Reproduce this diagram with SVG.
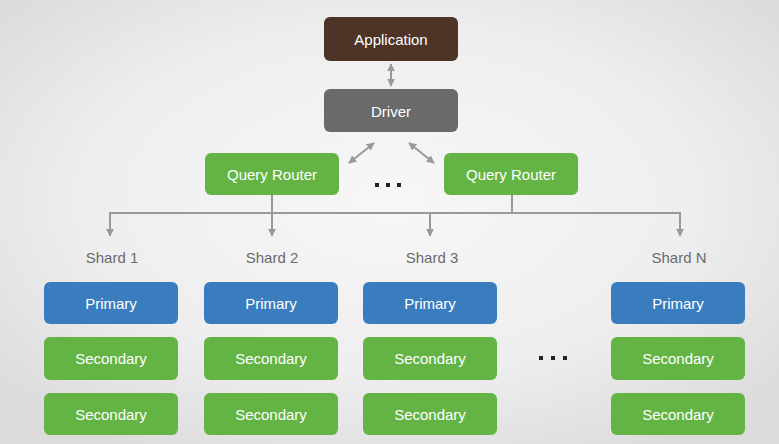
<svg xmlns="http://www.w3.org/2000/svg" width="779" height="444" viewBox="0 0 779 444">
<defs>
<radialGradient id="bg" cx="50%" cy="45%" r="65%">
<stop offset="0" stop-color="#f7f7f7"/>
<stop offset="0.6" stop-color="#eeeeee"/>
<stop offset="1" stop-color="#dcdcdc"/>
</radialGradient>
<marker id="ah" viewBox="0 0 10 10" refX="9" refY="5" markerWidth="4" markerHeight="4" orient="auto-start-reverse" markerUnits="strokeWidth">
<path d="M0,0 L10,5 L0,10 z" fill="#999"/>
</marker>
<marker id="ah2" viewBox="0 0 10 10" refX="9" refY="5" markerWidth="4" markerHeight="4" orient="auto" markerUnits="strokeWidth">
<path d="M0,0 L10,5 L0,10 z" fill="#999"/>
</marker>
</defs>
<style>
.box{stroke:none}
.app{fill:#4d3426}
.drv{fill:#6a6a6a}
.grn{fill:#64b445}
.blu{fill:#3a7dbf}
.t{font-family:"Liberation Sans",Arial,sans-serif;font-size:15px;fill:#ffffff;text-anchor:middle;dominant-baseline:central}
.lbl{font-family:"Liberation Sans",Arial,sans-serif;font-size:15px;fill:#6b6b6b;text-anchor:middle;dominant-baseline:central}
.ln{stroke:#999;stroke-width:2;fill:none}
.dot{fill:#222}
</style>
<rect width="779" height="444" fill="url(#bg)"/>

<g id="connectors">
<line class="ln" x1="391" y1="64" x2="391" y2="86" marker-start="url(#ah)" marker-end="url(#ah)"/>
<line class="ln" x1="374" y1="143" x2="349" y2="163" marker-start="url(#ah)" marker-end="url(#ah)"/>
<line class="ln" x1="409" y1="143" x2="434" y2="163" marker-start="url(#ah)" marker-end="url(#ah)"/>
<line class="ln" x1="110" y1="213" x2="680" y2="213"/>
<line class="ln" x1="512" y1="195" x2="512" y2="213"/>
<line class="ln" x1="272" y1="195" x2="272" y2="236" marker-end="url(#ah2)"/>
<line class="ln" x1="110" y1="212" x2="110" y2="236" marker-end="url(#ah2)"/>
<line class="ln" x1="430" y1="213" x2="430" y2="236" marker-end="url(#ah2)"/>
<line class="ln" x1="680" y1="212" x2="680" y2="236" marker-end="url(#ah2)"/>
</g>

<g id="application"><rect class="box app" x="324" y="17" width="134" height="44" rx="6"/><text class="t" x="391" y="39.5">Application</text></g>
<g id="driver"><rect class="box drv" x="324" y="89" width="134" height="43" rx="6"/><text class="t" x="391" y="111">Driver</text></g>
<g id="router1"><rect class="box grn" x="205" y="153" width="134" height="42" rx="6"/><text class="t" x="272" y="174">Query Router</text></g>
<g id="router2"><rect class="box grn" x="444" y="153" width="134" height="42" rx="6"/><text class="t" x="511" y="174">Query Router</text></g>
<g id="dots1"><rect class="dot" x="375" y="183" width="4" height="4"/><rect class="dot" x="386" y="183" width="4" height="4"/><rect class="dot" x="397" y="183" width="4" height="4"/></g>

<g id="shard1">
<text class="lbl" x="112" y="257">Shard 1</text>
<rect class="box blu" x="44" y="282" width="134" height="42" rx="6"/><text class="t" x="111" y="303">Primary</text>
<rect class="box grn" x="44" y="337" width="134" height="43" rx="6"/><text class="t" x="111" y="358.5">Secondary</text>
<rect class="box grn" x="44" y="393" width="134" height="42" rx="6"/><text class="t" x="111" y="414">Secondary</text>
</g>
<g id="shard2">
<text class="lbl" x="272" y="257">Shard 2</text>
<rect class="box blu" x="204" y="282" width="134" height="42" rx="6"/><text class="t" x="271" y="303">Primary</text>
<rect class="box grn" x="204" y="337" width="134" height="43" rx="6"/><text class="t" x="271" y="358.5">Secondary</text>
<rect class="box grn" x="204" y="393" width="134" height="42" rx="6"/><text class="t" x="271" y="414">Secondary</text>
</g>
<g id="shard3">
<text class="lbl" x="432" y="257">Shard 3</text>
<rect class="box blu" x="363" y="282" width="134" height="42" rx="6"/><text class="t" x="430" y="303">Primary</text>
<rect class="box grn" x="363" y="337" width="134" height="43" rx="6"/><text class="t" x="430" y="358.5">Secondary</text>
<rect class="box grn" x="363" y="393" width="134" height="42" rx="6"/><text class="t" x="430" y="414">Secondary</text>
</g>
<g id="shardN">
<text class="lbl" x="679" y="257">Shard N</text>
<rect class="box blu" x="611" y="282" width="134" height="42" rx="6"/><text class="t" x="678" y="303">Primary</text>
<rect class="box grn" x="611" y="337" width="134" height="43" rx="6"/><text class="t" x="678" y="358.5">Secondary</text>
<rect class="box grn" x="611" y="393" width="134" height="42" rx="6"/><text class="t" x="678" y="414">Secondary</text>
</g>
<g id="dots2"><rect class="dot" x="539" y="356" width="4" height="4"/><rect class="dot" x="551" y="356" width="4" height="4"/><rect class="dot" x="563" y="356" width="4" height="4"/></g>
</svg>
